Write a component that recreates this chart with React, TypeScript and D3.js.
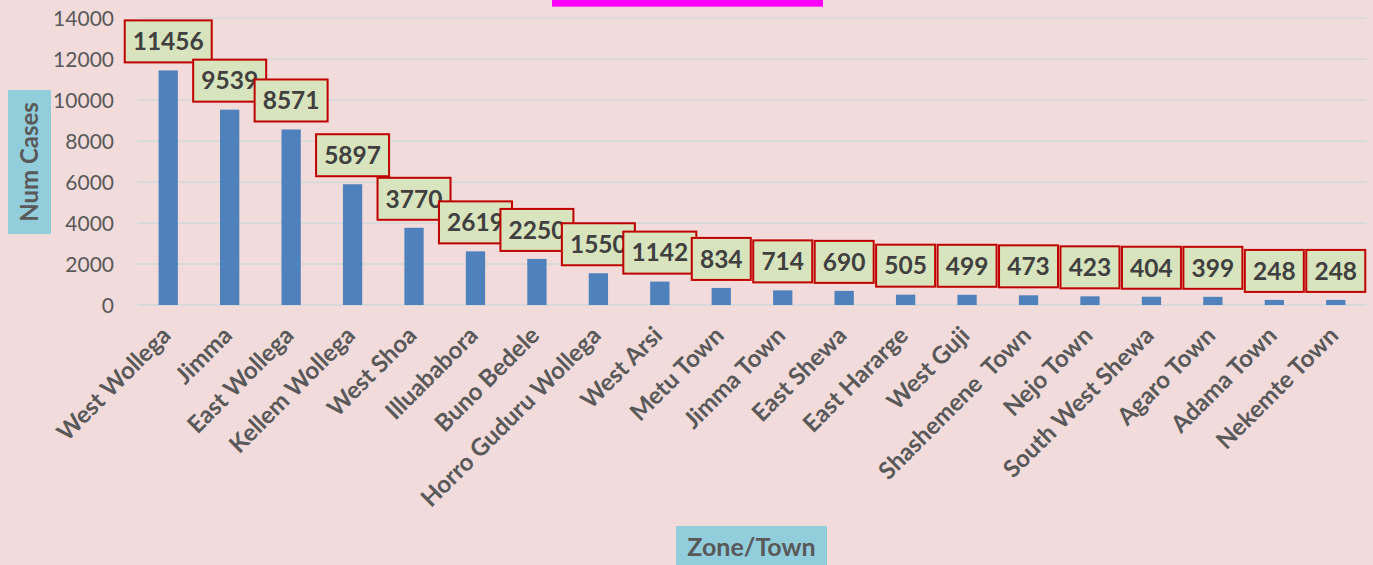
import React from "react";
import * as d3 from "d3";

const categories = [
  "West Wollega", "Jimma", "East Wollega", "Kellem Wollega", "West Shoa",
  "Illuababora", "Buno Bedele", "Horro Guduru Wollega", "West Arsi", "Metu Town",
  "Jimma Town", "East Shewa", "East Hararge", "West Guji", "Shashemene  Town",
  "Nejo Town", "South West Shewa", "Agaro Town", "Adama Town", "Nekemte Town",
];
const values = [11456, 9539, 8571, 5897, 3770, 2619, 2250, 1550, 1142, 834, 714, 690, 505, 499, 473, 423, 404, 399, 248, 248];
const yTicks = [0, 2000, 4000, 6000, 8000, 10000, 12000, 14000];
const yTitle = "Num Cases";
const xTitle = "Zone/Town";

const W = 1373;
const H = 565;
const FONT = "Lato, 'Open Sans', sans-serif";
const TXT = "#595959";

export default function App() {
  const x = d3.scaleBand<string>().domain(categories).range([137.5, 1366.5]).paddingInner(0.686).paddingOuter(0.343);
  const y = d3.scaleLinear().domain([0, 14000]).range([305, 18.3]);
  const bw = x.bandwidth();

  return (
    <svg width={W} height={H} style={{ position: "absolute", left: 0, top: 0 }} fontFamily={FONT}>
      <rect x={0} y={0} width={W} height={H} fill="#F2DCDB" />
      <rect x={552} y={-10} width={271} height={16.7} fill="#FF00FF" />
      {yTicks.map((t) => (
        <g key={t}>
          <line x1={137.5} x2={1366.5} y1={y(t)} y2={y(t)} stroke="#D9D9D9" strokeWidth={2} />
          <text x={114} y={y(t)} dy="0.36em" textAnchor="end" fontSize={21} fill={TXT}>
            {t}
          </text>
        </g>
      ))}
      {categories.map((c, i) => (
        <rect key={c} x={x(c)!} y={y(values[i])} width={bw} height={y(0) - y(values[i])} fill="#4F81BD" />
      ))}
      {categories.map((c) => {
        const cx = x(c)! + bw / 2;
        return (
          <text
            key={c}
            transform={`translate(${cx + 4},${337}) rotate(-45)`}
            textAnchor="end"
            fontSize={24}
            fontWeight="bold"
            fill={TXT}
            style={{ whiteSpace: "pre" }}
          >
            {c}
          </text>
        );
      })}
      {categories.map((c, i) => {
        const cx = x(c)! + bw / 2;
        const label = String(values[i]);
        const w = 14 * label.length + 17;
        const h = 42;
        const bottom = y(values[i]) - 8;
        return (
          <g key={c}>
            <rect x={cx - w / 2} y={bottom - h} width={w} height={h} fill="#D7E4BD" stroke="#C00000" strokeWidth={2} />
            <text x={cx} y={bottom - h / 2} dy="0.36em" textAnchor="middle" fontSize={24.5} fontWeight="bold" fill="#404040">
              {label}
            </text>
          </g>
        );
      })}
      <rect x={8} y={90} width={43} height={144} fill="#92CDDC" />
      <text
        transform={`translate(${38},${162}) rotate(-90)`}
        textAnchor="middle"
        fontSize={24}
        fontWeight="bold"
        fill={TXT}
      >
        {yTitle}
      </text>
      <rect x={676} y={526} width={151} height={45} fill="#92CDDC" />
      <text x={751.5} y={556} textAnchor="middle" fontSize={25} fontWeight="bold" fill={TXT}>
        {xTitle}
      </text>
    </svg>
  );
}
